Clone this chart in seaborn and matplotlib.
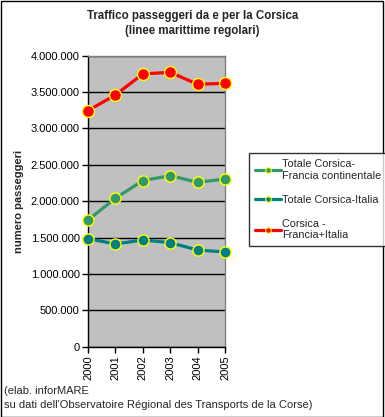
import numpy as np
import pandas as pd
import matplotlib
matplotlib.use("Agg")
import matplotlib.pyplot as plt
import seaborn as sns
from matplotlib.ticker import FuncFormatter, MultipleLocator
from matplotlib.patches import Rectangle
from matplotlib.lines import Line2D

# dati
anni = [2000, 2001, 2002, 2003, 2004, 2005]
francia = [1742000, 2040000, 2283000, 2351000, 2260000, 2305000]
italia = [1485000, 1412000, 1467000, 1430000, 1329000, 1302000]
totale = [3245000, 3460000, 3749000, 3772000, 3607000, 3620000]

serie = ["Totale Corsica-\nFrancia continentale", "Totale Corsica-Italia", "Corsica -\nFrancia+Italia"]
valori = [francia, italia, totale]
colori = ["#339966", "#008080", "#FF0000"]

sns.set_style("white")
plt.rcParams["font.family"] = ["Liberation Sans", "DejaVu Sans"]

fig = plt.figure(figsize=(3.85, 4.17), dpi=100)
ax = fig.add_axes([88 / 385, 1 - 346.7 / 417, (225 - 88) / 385, (346.7 - 55.7) / 417])
ax.set_facecolor("#C0C0C0")

for nome, v, c in zip(serie, valori, colori):
    df = pd.DataFrame({"anno": anni, "passeggeri": v})
    sns.lineplot(data=df, x="anno", y="passeggeri", ax=ax, color=c, lw=2.3,
                 marker="o", markersize=8.6 if c == "#FF0000" else 8.0,
                 markeredgecolor="#FFFF00", markeredgewidth=1.0,
                 clip_on=False, zorder=3)

ax.set_xlim(2000, 2005)
ax.set_ylim(0, 4000000)
ax.yaxis.set_major_locator(MultipleLocator(500000))
ax.yaxis.set_major_formatter(FuncFormatter(lambda y, p: f"{int(y):,}".replace(",", ".")))
ax.set_xticks(anni)
ax.set_xticklabels([str(a) for a in anni], rotation=90)
ax.grid(axis="y", color="black", lw=1)
ax.set_axisbelow(True)
ax.tick_params(axis="both", labelsize=8, direction="out", length=4, width=1,
               colors="black", left=True, bottom=True, pad=2)
for s in ["left", "bottom"]:
    ax.spines[s].set_color("black")
    ax.spines[s].set_linewidth(1)
for s in ["top", "right"]:
    ax.spines[s].set_color("#808080")
    ax.spines[s].set_linewidth(1)
ax.set_xlabel("")
ax.set_ylabel("numero passeggeri", fontsize=8, fontweight="bold")
ax.yaxis.set_label_coords(-0.47, 0.5)

# legenda con marcatori piccoli
h = [Line2D([], [], color=c, lw=2.3, marker="o", markersize=4,
            markeredgecolor="#FFFF00", markeredgewidth=0.8) for c in colori]
leg = fig.legend(h, serie, loc="upper left", bbox_to_anchor=(249 / 385, 1 - 153 / 417),
                 fontsize=7.8, frameon=True, fancybox=False, edgecolor="black",
                 handlelength=2.4, handletextpad=0.1, borderpad=0.55,
                 labelspacing=1.3, borderaxespad=0)
leg.get_frame().set_linewidth(1)

fig.text(0.5, 1 - 16 / 417, "Traffico passeggeri da e per la Corsica", ha="center",
         va="center", fontsize=8.3, fontweight="bold")
fig.text(0.5, 1 - 31 / 417, "(linee marittime regolari)", ha="center",
         va="center", fontsize=8.3, fontweight="bold")
fig.text(4 / 385, 1 - 391 / 417, "(elab. inforMARE", ha="left", va="center", fontsize=8)
fig.text(4 / 385, 1 - 405 / 417, "su dati dell'Observatoire Régional des Transports de la Corse)",
         ha="left", va="center", fontsize=8)

fig.patches.append(Rectangle((0.5 / 385, 0.5 / 417), 382 / 385, 415.5 / 417, transform=fig.transFigure,
                             fill=False, edgecolor="black", lw=1))

fig.savefig("out.png", dpi=100, facecolor="white")
